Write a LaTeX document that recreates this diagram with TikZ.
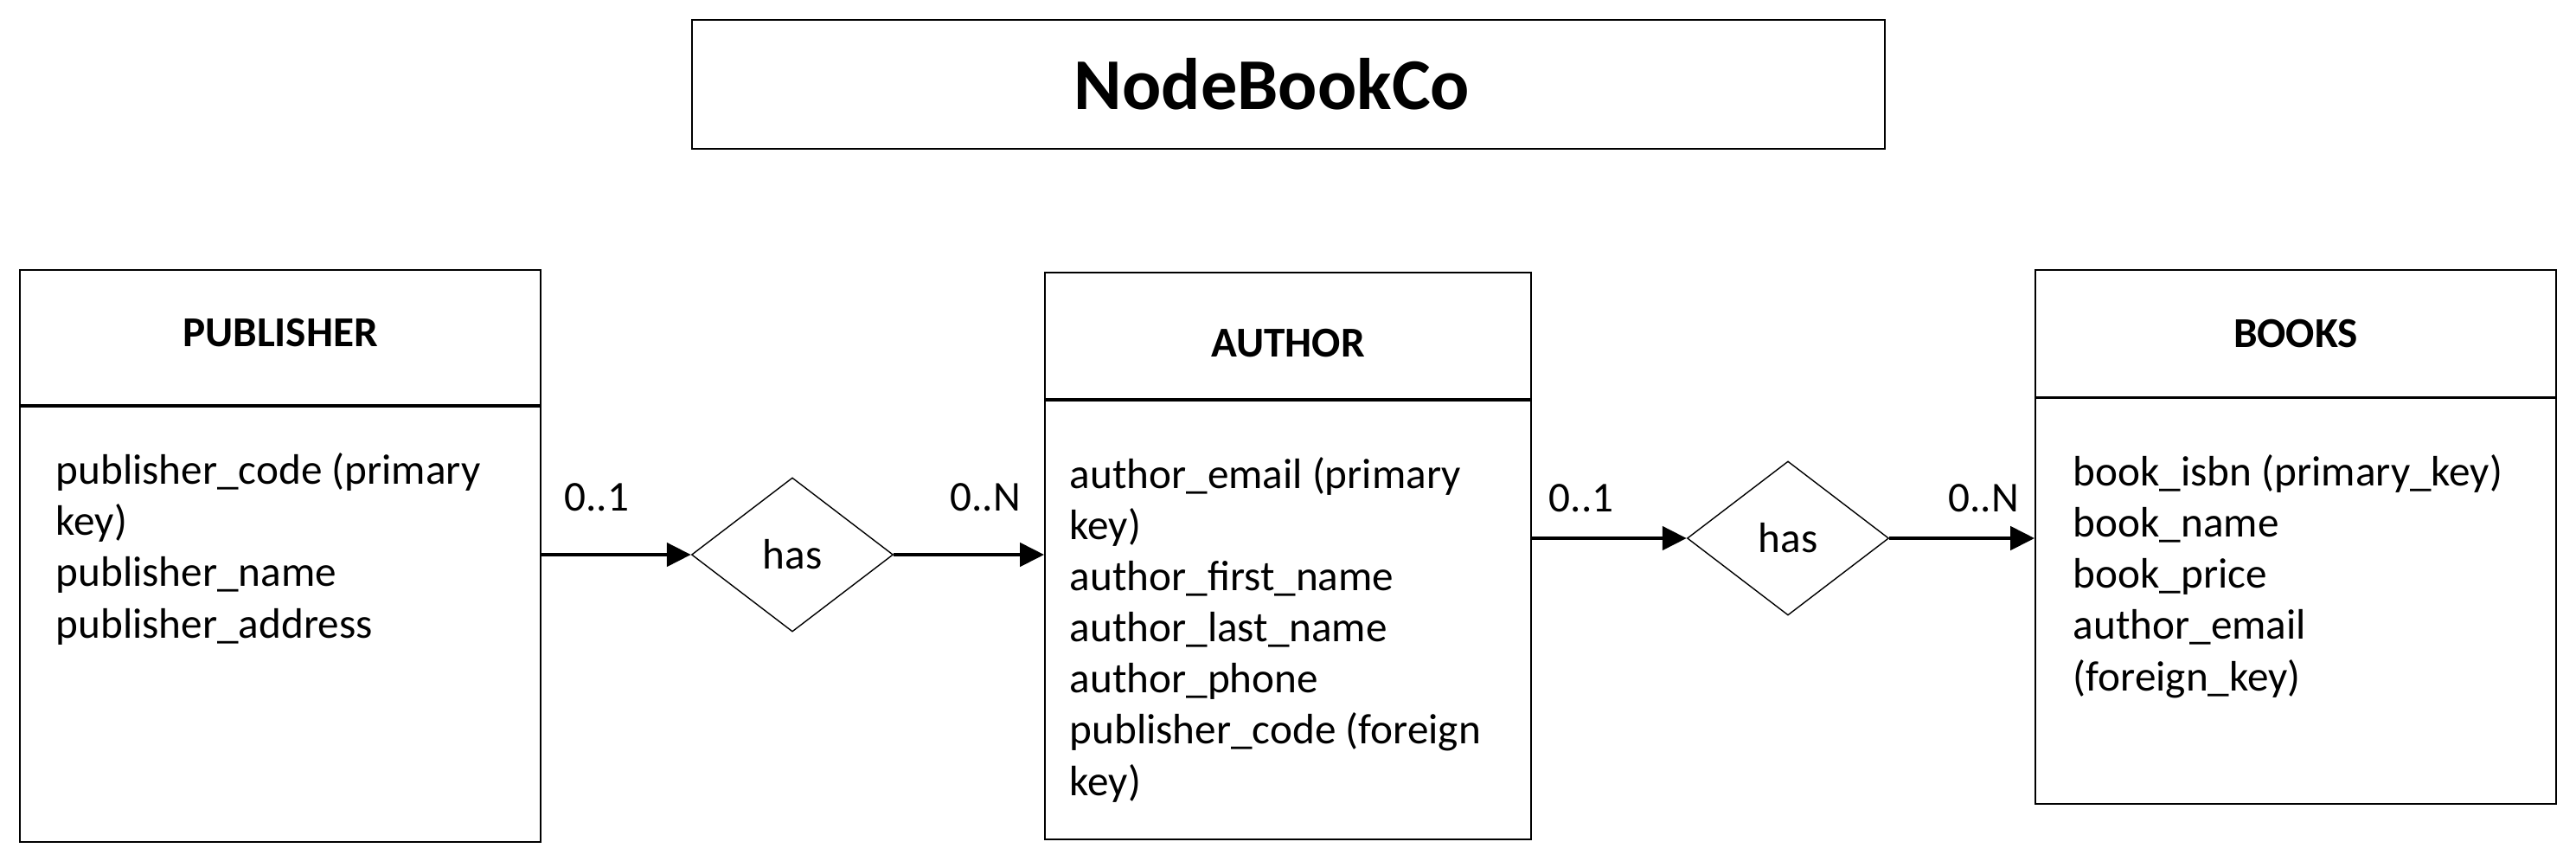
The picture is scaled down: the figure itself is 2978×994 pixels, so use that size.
\documentclass[tikz,border=0pt]{standalone}
\usepackage{fontspec}
\setmainfont{Carlito}
\usetikzlibrary{positioning,shapes.geometric,arrows.meta}
\begin{document}
\begin{tikzpicture}[x=0.1mm,y=-0.1mm,
    head/.style={draw,line width=0.5pt,inner sep=0pt,font=\fontsize{14}{17}\selectfont\bfseries},
    body/.style={draw,line width=0.5pt,inner sep=0pt,anchor=north},
    attrs/.style={anchor=base west,align=left,inner sep=0pt,font=\fontsize{14}{16.8}\selectfont},
    rel/.style={draw,diamond,line width=0.4pt,inner sep=0pt,minimum width=23.3mm,minimum height=17.8mm,font=\fontsize{14}{17}\selectfont},
    link/.style={-{Triangle[length=2.8mm,width=2.7mm]},line width=1.3pt},
    card/.style={inner sep=0pt,font=\fontsize{14}{17}\selectfont}]
    \useasboundingbox (0,0) rectangle (2978,994);

    % title
    \node[draw,line width=0.5pt,minimum width=137.9mm,minimum height=14.9mm,font=\fontsize{24}{28}\selectfont\bfseries] (title) at (1489.5,97.5) {NodeBookCo\hspace*{3.8mm}};

    % publisher
    \node[head,minimum width=60.2mm,minimum height=15.6mm,text depth=1.2mm] (pubhead) at (324,390) {PUBLISHER};
    \node[body,minimum width=60.2mm,minimum height=50.3mm] (pubbody) at (pubhead.south) {};
    \node[attrs] (pubattr) at (64,737) {publisher\_code (primary\\key)\\publisher\_name\\publisher\_address};

    % author
    \node[head,minimum width=56.2mm,minimum height=14.6mm,text height=4.9mm] (authead) at (1489,388) {AUTHOR};
    \node[body,minimum width=56.2mm,minimum height=50.7mm] (autbody) at (authead.south) {};
    \node[attrs] (autattr) at (1236,919) {author\_email (primary\\key)\\author\_first\_name\\author\_last\_name\\author\_phone\\publisher\_code (foreign\\key)};

    % books
    \node[head,minimum width=60.2mm,minimum height=14.65mm] (bookhead) at (2654,385.25) {BOOKS};
    \node[body,minimum width=60.2mm,minimum height=46.85mm] (bookbody) at (bookhead.south) {};
    \node[attrs] (bookattr) at (2396,798) {book\_isbn (primary\_key)\\book\_name\\book\_price\\author\_email\\(foreign\_key)};

    % relations
    \node[rel] (has1) at (916,641) {has};
    \node[rel] (has2) at (2067,622) {has};

    \draw[link] (pubbody.east |- has1) -- node[card,above=4.8mm,pos=0.37] {0..1} (has1.west);
    \draw[link] (has1.east) -- node[card,above=4.8mm,pos=0.61] {0..N} (autbody.west |- has1);
    \draw[link] (autbody.east |- has2) -- node[card,above=2.75mm,pos=0.32] {0..1} (has2.west);
    \draw[link] (has2.east) -- node[card,above=2.75mm,pos=0.65] {0..N} (bookbody.west |- has2);
\end{tikzpicture}
\end{document}
